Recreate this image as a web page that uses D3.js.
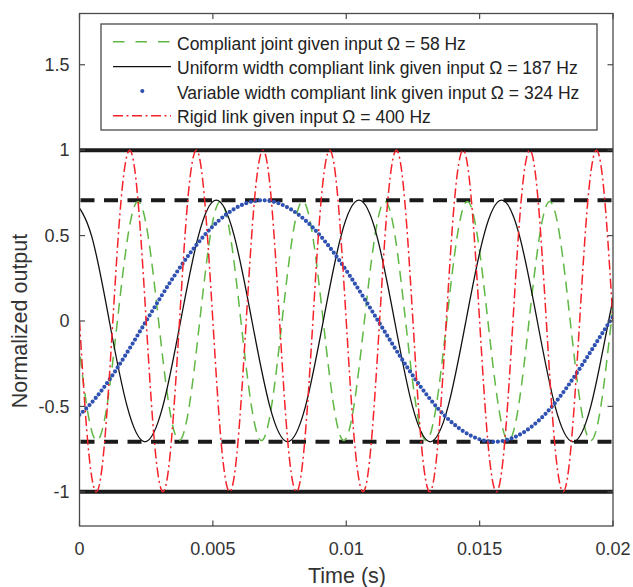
<!DOCTYPE html>
<html>
<head>
<meta charset="utf-8">
<script src="https://cdn.jsdelivr.net/npm/d3@7"></script>
<style>
  html, body { margin: 0; padding: 0; background: #fff; }
  svg { display: block; font-family: "Liberation Sans", Arial, Helvetica, sans-serif; }
</style>
</head>
<body>
<svg id="chart" width="633" height="587"></svg>
<script>
// ---- data (time in ms, values normalized) ----
const xTickValues = [0, 5, 10, 15, 20];
const xTickLabels = ["0", "0.005", "0.01", "0.015", "0.02"];
const yTickValues = [-1, -0.5, 0, 0.5, 1, 1.5];
const yTickLabels = ["-1", "-0.5", "0", "0.5", "1", "1.5"];

const refSolid = [1, -1];
const refDashed = [0.707, -0.707];

const seriesNames = [
  "Compliant joint given input \u03A9 = 58 Hz",
  "Uniform width compliant link given input \u03A9 = 187 Hz",
  "Variable width compliant link given input \u03A9 = 324 Hz",
  "Rigid link given input \u03A9 = 400 Hz"
];

// green dashed
const greenT = [-0.122, 0.264, 0.650, 1.035, 1.421, 1.807, 2.193, 2.579, 2.964, 3.350, 3.736, 4.122, 4.508, 4.893, 5.279, 5.665,
  6.051, 6.437, 6.822, 7.208, 7.594, 7.980, 8.366, 8.751, 9.137, 9.523, 9.909, 10.295, 10.680, 11.066, 11.452, 11.838,
  12.224, 12.609, 12.995, 13.381, 13.767, 14.153, 14.538, 14.924, 15.310, 15.696, 16.082, 16.467, 16.853, 17.239, 17.625, 18.011,
  18.396, 18.782, 19.168, 19.554, 19.940, 20.325];
const greenY = [0, -0.49, -0.7, -0.49, 0, 0.49, 0.7, 0.49, 0, -0.49, -0.7, -0.49, 0, 0.49, 0.7, 0.49,
  0, -0.49, -0.7, -0.49, 0, 0.49, 0.7, 0.49, 0, -0.49, -0.7, -0.49, 0, 0.49, 0.7, 0.49,
  0, -0.49, -0.7, -0.49, 0, 0.49, 0.7, 0.49, 0, -0.49, -0.7, -0.49, 0, 0.49, 0.7, 0.49,
  0, -0.49, -0.7, -0.49, 0, 0.49];

// black solid
const blackT = [-0.220, 0.449, 1.117, 1.786, 2.454, 3.123, 3.791, 4.460, 5.128, 5.797, 6.465, 7.134, 7.802, 8.471, 9.139, 9.808,
  10.476, 11.145, 11.813, 12.482, 13.150, 13.819, 14.487, 15.156, 15.824, 16.493, 17.161, 17.830, 18.498, 19.167, 19.835, 20.504];
const blackY = [0.707, 0.5, 0, -0.5, -0.707, -0.5, 0, 0.5, 0.707, 0.5, 0, -0.5, -0.707, -0.5, 0, 0.5,
  0.707, 0.5, 0, -0.5, -0.707, -0.5, 0, 0.5, 0.707, 0.5, 0, -0.5, -0.707, -0.5, 0, 0.5];

// blue dotted
const blueT = [-1.848, 0.326, 2.500, 4.674, 6.848, 9.022, 11.196, 13.370, 15.544, 17.718, 19.891, 22.065];
const blueY = [-0.707, -0.5, 0, 0.5, 0.707, 0.5, 0, -0.5, -0.707, -0.5, 0, 0.5];

// red dash-dot
const redT = [0, 0.31, 0.63, 0.94, 1.25, 1.56, 1.88, 2.19, 2.5, 2.81, 3.13, 3.44, 3.75, 4.06, 4.38, 4.69,
  5, 5.31, 5.63, 5.94, 6.25, 6.56, 6.88, 7.19, 7.5, 7.81, 8.13, 8.44, 8.75, 9.06, 9.38, 9.69,
  10, 10.31, 10.63, 10.94, 11.25, 11.56, 11.88, 12.19, 12.5, 12.81, 13.13, 13.44, 13.75, 14.06, 14.38, 14.69,
  15, 15.31, 15.63, 15.94, 16.25, 16.56, 16.88, 17.19, 17.5, 17.81, 18.13, 18.44, 18.75, 19.06, 19.38, 19.69, 20];
const redY = [0, -0.71, -1, -0.71, 0, 0.71, 1, 0.71, 0, -0.71, -1, -0.71, 0, 0.71, 1, 0.71,
  0, -0.71, -1, -0.71, 0, 0.71, 1, 0.71, 0, -0.71, -1, -0.71, 0, 0.71, 1, 0.71,
  0, -0.71, -1, -0.71, 0, 0.71, 1, 0.71, 0, -0.71, -1, -0.71, 0, 0.71, 1, 0.71,
  0, -0.71, -1, -0.71, 0, 0.71, 1, 0.71, 0, -0.71, -1, -0.71, 0, 0.71, 1, 0.71, 0];

// ---- drawing ----
const svg = d3.select("#chart");
const L = 79.5, R = 613, T = 13.5, B = 526;
const x = d3.scaleLinear().domain([0, 20]).range([L, R]);
const y = d3.scaleLinear().domain([-1.2, 1.8]).range([B, T]);

const textCol = "#333";
const axisCol = "#4a4a4a";

svg.append("defs").append("clipPath").attr("id", "clip")
  .append("rect").attr("x", L).attr("y", T).attr("width", R - L).attr("height", B - T);

const plot = svg.append("g").attr("clip-path", "url(#clip)");

// reference lines
plot.selectAll("line.solidref").data(refSolid).enter().append("line")
  .attr("x1", L).attr("x2", R).attr("y1", d => y(d)).attr("y2", d => y(d))
  .attr("stroke", "#1a1a1a").attr("stroke-width", 4);
plot.selectAll("line.dashref").data(refDashed).enter().append("line")
  .attr("x1", L + 1).attr("x2", R).attr("y1", d => y(d)).attr("y2", d => y(d))
  .attr("stroke", "#1a1a1a").attr("stroke-width", 4).attr("stroke-dasharray", "14 9.5");

const line = d3.line().x(d => x(d[0])).y(d => y(d[1])).curve(d3.curveNatural);

const series = [
  { t: greenT, v: greenY, color: "#5fb843", width: 1.5, dash: "11 7", cap: "butt" },
  { t: blackT, v: blackY, color: "#111", width: 1.3, dash: null, cap: "butt" },
  { t: blueT, v: blueY, color: "#2f52b2", width: 4.2, dash: "0 4.7", cap: "round" },
  { t: redT, v: redY, color: "#f5222a", width: 1.5, dash: "10 3.5 2 3.5", cap: "butt" }
];

series.forEach(s => {
  const pts = s.t.map((t, i) => [t, s.v[i]]);
  plot.append("path").datum(pts)
    .attr("d", line)
    .attr("fill", "none")
    .attr("stroke", s.color)
    .attr("stroke-width", s.width)
    .attr("stroke-linecap", s.cap)
    .attr("stroke-dasharray", s.dash);
});

// axes box
const axes = svg.append("g");
axes.append("rect").attr("x", L).attr("y", T).attr("width", R - L).attr("height", B - T)
  .attr("fill", "none").attr("stroke", axisCol).attr("stroke-width", 1.3);

const tl = 5.5;
xTickValues.forEach((v, i) => {
  axes.append("line").attr("x1", x(v)).attr("x2", x(v)).attr("y1", B).attr("y2", B - tl)
    .attr("stroke", axisCol).attr("stroke-width", 1.2);
  axes.append("line").attr("x1", x(v)).attr("x2", x(v)).attr("y1", T).attr("y2", T + tl)
    .attr("stroke", axisCol).attr("stroke-width", 1.2);
  axes.append("text").attr("x", x(v)).attr("y", 554.5)
    .attr("text-anchor", "middle").attr("font-size", 18).attr("fill", textCol)
    .text(xTickLabels[i]);
});
yTickValues.forEach((v, i) => {
  axes.append("line").attr("x1", L).attr("x2", L + tl).attr("y1", y(v)).attr("y2", y(v))
    .attr("stroke", axisCol).attr("stroke-width", 1.2);
  axes.append("line").attr("x1", R).attr("x2", R - tl).attr("y1", y(v)).attr("y2", y(v))
    .attr("stroke", axisCol).attr("stroke-width", 1.2);
  axes.append("text").attr("x", 69.5).attr("y", y(v) + 6.3)
    .attr("text-anchor", "end").attr("font-size", 18).attr("fill", textCol)
    .text(yTickLabels[i]);
});

// axis labels
svg.append("text").attr("x", 347).attr("y", 583)
  .attr("text-anchor", "middle").attr("font-size", 21.5).attr("fill", textCol)
  .text("Time (s)");
svg.append("text").attr("transform", "translate(27,321) rotate(-90)")
  .attr("text-anchor", "middle").attr("font-size", 21.5).attr("fill", textCol)
  .text("Normalized output");

// legend
const lg = svg.append("g");
lg.append("rect").attr("x", 101).attr("y", 24).attr("width", 496).attr("height", 106)
  .attr("fill", "#fff").attr("stroke", axisCol).attr("stroke-width", 1.3);
const rowY = [43.5, 68, 92.3, 116.7];
const lineY = [41.7, 66.7, 91, 115.7];
const legendStyles = [
  { color: "#5fb843", width: 1.5, dash: "11.5 11" },
  { color: "#111", width: 1.3, dash: null },
  { color: "#2f52b2", dot: true },
  { color: "#f5222a", width: 1.5, dash: "10 3.5 2 3.5" }
];
seriesNames.forEach((name, i) => {
  const st = legendStyles[i];
  if (st.dot) {
    lg.append("circle").attr("cx", 142.3).attr("cy", lineY[i]).attr("r", 2.1).attr("fill", st.color);
  } else {
    lg.append("line").attr("x1", 113).attr("x2", 171).attr("y1", lineY[i]).attr("y2", lineY[i])
      .attr("stroke", st.color).attr("stroke-width", st.width).attr("stroke-dasharray", st.dash);
  }
  lg.append("text").attr("x", 177).attr("y", rowY[i] + 6.2)
    .attr("font-size", 17.5).attr("fill", "#222").text(name);
});
</script>
</body>
</html>
